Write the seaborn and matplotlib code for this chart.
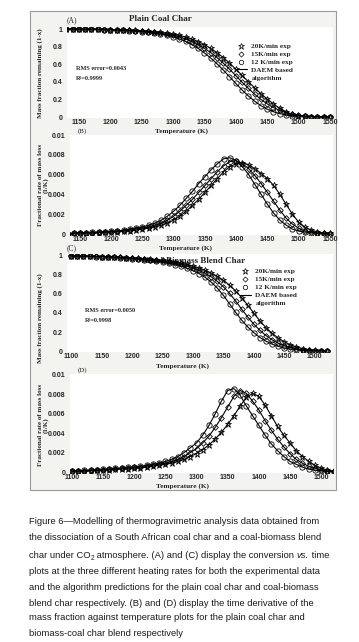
import matplotlib
matplotlib.use("Agg")
import matplotlib.pyplot as plt
import matplotlib.patches as mpatches
from matplotlib.lines import Line2D
from matplotlib import font_manager
import seaborn as sns

# ---- data ---------------------------------------------------------------
temp_plain = [1130, 1140, 1150, 1160, 1170, 1180, 1190, 1200, 1210, 1220,
              1230, 1240, 1250, 1260, 1270, 1280, 1290, 1300, 1310, 1320,
              1330, 1340, 1350, 1360, 1370, 1380, 1390, 1400, 1410, 1420,
              1430, 1440, 1450, 1460, 1470, 1480, 1490, 1500, 1510, 1520,
              1530, 1540, 1550]
temp_blend = [1100, 1110, 1120, 1130, 1140, 1150, 1160, 1170, 1180, 1190,
              1200, 1210, 1220, 1230, 1240, 1250, 1260, 1270, 1280, 1290,
              1300, 1310, 1320, 1330, 1340, 1350, 1360, 1370, 1380, 1390,
              1400, 1410, 1420, 1430, 1440, 1450, 1460, 1470, 1480, 1490,
              1500, 1510, 1520]

# (A) plain coal char - mass fraction remaining (1-x)
mass_plain_12 = [1.000, 1.000, 0.999, 0.998, 0.997, 0.995, 0.993, 0.991, 0.988, 0.985,
                 0.981, 0.976, 0.970, 0.963, 0.954, 0.943, 0.929, 0.911, 0.888, 0.859,
                 0.823, 0.780, 0.729, 0.671, 0.606, 0.535, 0.459, 0.382, 0.308, 0.240,
                 0.180, 0.130, 0.090, 0.060, 0.039, 0.025, 0.016, 0.011, 0.008, 0.006,
                 0.005, 0.004, 0.004]
mass_plain_15 = [1.000, 1.000, 0.999, 0.998, 0.997, 0.996, 0.994, 0.992, 0.990, 0.987,
                 0.984, 0.980, 0.975, 0.969, 0.962, 0.953, 0.942, 0.928, 0.910, 0.887,
                 0.858, 0.823, 0.781, 0.732, 0.676, 0.613, 0.544, 0.471, 0.397, 0.326,
                 0.260, 0.201, 0.150, 0.108, 0.075, 0.051, 0.030, 0.018, 0.010, 0.005,
                 0.003, 0.002, 0.001]
mass_plain_20 = [1.000, 1.000, 1.000, 0.999, 0.998, 0.997, 0.996, 0.994, 0.992, 0.990,
                 0.987, 0.984, 0.980, 0.975, 0.969, 0.962, 0.953, 0.942, 0.928, 0.910,
                 0.887, 0.858, 0.823, 0.781, 0.732, 0.676, 0.613, 0.545, 0.474, 0.402,
                 0.332, 0.266, 0.205, 0.149, 0.100, 0.060, 0.030, 0.015, 0.008, 0.004,
                 0.002, 0.001, 0.000]

# (B) plain coal char - fractional rate of mass loss (1/K)
rate_plain_12 = [0.0000, 0.0001, 0.0001, 0.0001, 0.0002, 0.0002, 0.0002, 0.0003, 0.0003, 0.0004,
                 0.0005, 0.0006, 0.0007, 0.0009, 0.0011, 0.0014, 0.0018, 0.0023, 0.0029, 0.0036,
                 0.0043, 0.0051, 0.0058, 0.0065, 0.0071, 0.0076, 0.0077, 0.0074, 0.0068, 0.0060,
                 0.0050, 0.0040, 0.0030, 0.0021, 0.0014, 0.0009, 0.0005, 0.0003, 0.0002, 0.0001,
                 0.0001, 0.0000, 0.0000]
rate_plain_15 = [0.0000, 0.0001, 0.0001, 0.0001, 0.0001, 0.0002, 0.0002, 0.0002, 0.0003, 0.0003,
                 0.0004, 0.0005, 0.0006, 0.0007, 0.0009, 0.0011, 0.0014, 0.0018, 0.0023, 0.0029,
                 0.0035, 0.0042, 0.0049, 0.0056, 0.0063, 0.0069, 0.0073, 0.0074, 0.0071, 0.0066,
                 0.0059, 0.0051, 0.0042, 0.0033, 0.0024, 0.0016, 0.0010, 0.0006, 0.0003, 0.0002,
                 0.0001, 0.0001, 0.0000]
rate_plain_20 = [0.0000, 0.0000, 0.0001, 0.0001, 0.0001, 0.0001, 0.0002, 0.0002, 0.0002, 0.0003,
                 0.0003, 0.0004, 0.0005, 0.0006, 0.0007, 0.0009, 0.0011, 0.0014, 0.0018, 0.0023,
                 0.0029, 0.0035, 0.0042, 0.0049, 0.0056, 0.0063, 0.0068, 0.0071, 0.0072, 0.0070,
                 0.0066, 0.0061, 0.0056, 0.0049, 0.0040, 0.0030, 0.0020, 0.0012, 0.0007, 0.0004,
                 0.0002, 0.0001, 0.0001]

# (C) coal-biomass blend char - mass fraction remaining (1-x)
mass_blend_12 = [1.000, 0.999, 0.998, 0.996, 0.994, 0.992, 0.988, 0.985, 0.981, 0.977,
                 0.972, 0.966, 0.960, 0.953, 0.945, 0.935, 0.924, 0.910, 0.893, 0.872,
                 0.846, 0.815, 0.775, 0.725, 0.662, 0.585, 0.497, 0.407, 0.325, 0.253,
                 0.193, 0.142, 0.103, 0.072, 0.049, 0.032, 0.021, 0.013, 0.007, 0.004,
                 0.002, 0.001, 0.000]
mass_blend_15 = [1.000, 0.999, 0.998, 0.997, 0.995, 0.993, 0.991, 0.988, 0.985, 0.980,
                 0.976, 0.971, 0.966, 0.960, 0.953, 0.945, 0.935, 0.924, 0.911, 0.894,
                 0.874, 0.849, 0.818, 0.780, 0.733, 0.676, 0.607, 0.527, 0.440, 0.357,
                 0.282, 0.217, 0.162, 0.118, 0.083, 0.056, 0.037, 0.024, 0.014, 0.008,
                 0.004, 0.002, 0.001]
mass_blend_20 = [1.000, 0.999, 0.998, 0.997, 0.996, 0.994, 0.992, 0.990, 0.987, 0.983,
                 0.980, 0.976, 0.972, 0.967, 0.961, 0.953, 0.945, 0.936, 0.924, 0.911,
                 0.894, 0.874, 0.850, 0.821, 0.786, 0.744, 0.693, 0.632, 0.562, 0.482,
                 0.398, 0.317, 0.245, 0.185, 0.136, 0.097, 0.065, 0.043, 0.026, 0.014,
                 0.007, 0.003, 0.001]

# (D) coal-biomass blend char - fractional rate of mass loss (1/K)
rate_blend_12 = [0.0001, 0.0001, 0.0002, 0.0002, 0.0002, 0.0003, 0.0003, 0.0004, 0.0004, 0.0005,
                 0.0005, 0.0006, 0.0007, 0.0008, 0.0009, 0.0011, 0.0013, 0.0016, 0.0020, 0.0025,
                 0.0030, 0.0038, 0.0048, 0.0060, 0.0073, 0.0084, 0.0086, 0.0079, 0.0068, 0.0058,
                 0.0048, 0.0038, 0.0029, 0.0022, 0.0016, 0.0011, 0.0008, 0.0005, 0.0003, 0.0002,
                 0.0001, 0.0001, 0.0000]
rate_blend_15 = [0.0001, 0.0001, 0.0001, 0.0002, 0.0002, 0.0002, 0.0003, 0.0003, 0.0004, 0.0004,
                 0.0005, 0.0005, 0.0006, 0.0007, 0.0008, 0.0009, 0.0011, 0.0013, 0.0016, 0.0020,
                 0.0024, 0.0030, 0.0037, 0.0046, 0.0056, 0.0067, 0.0078, 0.0084, 0.0081, 0.0073,
                 0.0064, 0.0053, 0.0043, 0.0034, 0.0026, 0.0019, 0.0013, 0.0009, 0.0006, 0.0004,
                 0.0002, 0.0001, 0.0001]
rate_blend_20 = [0.0001, 0.0001, 0.0001, 0.0001, 0.0002, 0.0002, 0.0002, 0.0003, 0.0003, 0.0003,
                 0.0004, 0.0004, 0.0005, 0.0006, 0.0007, 0.0008, 0.0009, 0.0011, 0.0013, 0.0016,
                 0.0019, 0.0023, 0.0028, 0.0034, 0.0041, 0.0049, 0.0058, 0.0068, 0.0077, 0.0081,
                 0.0078, 0.0069, 0.0058, 0.0047, 0.0038, 0.0030, 0.0022, 0.0016, 0.0011, 0.0007,
                 0.0004, 0.0002, 0.0001]

legend_labels = ["20K/min exp", "15K/min exp", "12 K/min exp", "DAEM based", "algorithm"]
caption_lines = [
    "Figure 6\u2014Modelling of thermogravimetric analysis data obtained from",
    "the dissociation of a South African coal char and a coal-biomass blend",
    None,  # line with CO2 and italic vs., built below
    "plots at the three different heating rates for both the experimental data",
    "and the algorithm predictions for the plain coal char and coal-biomass",
    "blend char respectively. (B) and (D) display the time derivative of the",
    "mass fraction against temperature plots for the plain coal char and",
    "biomass-coal char blend respectively",
]

# ---- fonts ----------------------------------------------------------------
sns.set_style("white")
names = {f.name for f in font_manager.fontManager.ttflist}
CAP = "Liberation Sans Narrow" if "Liberation Sans Narrow" in names else "Liberation Sans"
SERIF = "Liberation Serif"
plt.rcParams["font.family"] = ["Liberation Sans", "DejaVu Sans"]

W, H = 359, 642
fig = plt.figure(figsize=(W / 100, H / 100), dpi=100)
fig.patch.set_facecolor("white")


def box(x0, y0, x1, y1):
    return [x0 / W, 1 - y1 / H, (x1 - x0) / W, (y1 - y0) / H]


def ftext(x, y, s, **kw):
    return fig.text(x / W, 1 - y / H, s, **kw)


# grey screenshot frame
fig.patches.append(mpatches.Rectangle((30 / W, 1 - 490 / H), 306 / W, 479 / H,
                                      transform=fig.transFigure, facecolor="#f3f3ef",
                                      edgecolor="#9a9a9a", lw=0.8, zorder=-10))

markers = [("o", 3.8), ("D", 2.9), ("*", 5.0)]


def panel(rect, temps, series, xlim, ylim, xticks, yticks, yticklabels):
    ax = fig.add_axes(rect)
    ax.set_facecolor("white")
    for vals, (mk, ms) in zip(series, markers):
        sns.lineplot(x=temps, y=vals, ax=ax, color="black", lw=0.8, marker=mk,
                     ms=ms, mfc="none", mec="black", mew=0.6, zorder=3)
    ax.set_xlim(*xlim)
    ax.set_ylim(*ylim)
    ax.set_xticks(xticks)
    ax.set_yticks(yticks)
    ax.set_yticklabels(yticklabels)
    ax.set_xlabel("")
    ax.set_ylabel("")
    for s in ax.spines.values():
        s.set_visible(False)
    ax.tick_params(axis="y", length=2, width=0.5, color="#888888", pad=1.5, labelsize=5)
    ax.tick_params(axis="x", length=0, pad=0.5, labelsize=5)
    for lbl in ax.get_xticklabels() + ax.get_yticklabels():
        lbl.set_fontweight("bold")
    return ax


def add_legend(ax, anchor):
    handles = [Line2D([], [], ls="none", marker="*", ms=4.5, mfc="none", mec="k", mew=0.5),
               Line2D([], [], ls="none", marker="D", ms=2.6, mfc="none", mec="k", mew=0.5),
               Line2D([], [], ls="none", marker="o", ms=3.2, mfc="none", mec="k", mew=0.5),
               Line2D([], [], color="k", lw=0.8),
               Line2D([], [], ls="none")]
    ax.legend(handles, legend_labels, loc="upper left", bbox_to_anchor=anchor,
              frameon=False, borderpad=0, handlelength=1.6, handletextpad=0.6,
              labelspacing=0.25, prop=dict(family=SERIF, weight="bold", size=5.2))


mass_ticks = [0, 0.2, 0.4, 0.6, 0.8, 1.0]
mass_labels = ["0", "0.2", "0.4", "0.6", "0.8", "1"]
rate_ticks = [0, 0.002, 0.004, 0.006, 0.008, 0.01]
rate_labels = ["0", "0.002", "0.004", "0.006", "0.008", "0.01"]
small = dict(family=SERIF, weight="bold", size=4.5)
label = dict(family=SERIF, weight="bold", size=5.2, ha="center", va="center")

# (A)
axA = panel(box(67, 27, 333, 118), temp_plain, [mass_plain_12, mass_plain_15, mass_plain_20],
            (1131, 1555), (-0.011, 1.023), [1150, 1200, 1250, 1300, 1350, 1400, 1450, 1500, 1550],
            mass_ticks, mass_labels)
add_legend(axA, (0.62, 0.86))
ftext(72, 20, "(A)", family=SERIF, size=5.5, ha="center", va="center")
ftext(160, 19, "Plain Coal Char", family=SERIF, weight="bold", size=6.5, ha="center", va="center")
ftext(40, 73, "Mass fraction remaining (1-x)", family=SERIF, weight="bold", size=5,
      rotation=90, ha="center", va="center")
ftext(76, 68, "RMS error=0.0043", va="center", **small)
ftext(76, 79, "R\u00b2=0.9999", va="center", **small)
ftext(181, 131, "Temperature (K)", **label)

# (B)
axB = panel(box(70, 135, 333, 235), temp_plain, [rate_plain_12, rate_plain_15, rate_plain_20],
            (1134, 1555), (-0.0001, 0.0100), [1150, 1200, 1250, 1300, 1350, 1400, 1450, 1500, 1550],
            rate_ticks, rate_labels)
ftext(82, 131, "(B)", family=SERIF, size=5, ha="center", va="center")
ftext(43, 185, "Fractional rate of mass loss\n(1/K)", family=SERIF, weight="bold", size=5,
      rotation=90, ha="center", va="center", linespacing=1.0)
ftext(186, 248, "Temperature (K)", **label)

# (C)
axC = panel(box(67, 254, 333, 352), temp_blend, [mass_blend_12, mass_blend_15, mass_blend_20],
            (1093, 1530), (-0.0105, 1.021), [1100, 1150, 1200, 1250, 1300, 1350, 1400, 1450, 1500],
            mass_ticks, mass_labels)
add_legend(axC, (0.635, 0.89))
axC.text(0.48, 0.93, "Coal-Biomass Blend Char", transform=axC.transAxes, family=SERIF,
         weight="bold", size=6.5, ha="center", va="center", zorder=1)
ftext(72, 248, "(C)", family=SERIF, size=5.5, ha="center", va="center")
ftext(40, 318, "Mass fraction remaining (1-x)", family=SERIF, weight="bold", size=5,
      rotation=90, ha="center", va="center")
ftext(85, 311, "RMS error=0.0050", va="center", **small)
ftext(85, 321, "R\u00b2=0.9998", va="center", **small)
ftext(182, 366, "Temperature (K)", **label)

# (D)
axD = panel(box(70, 374, 333, 473), temp_blend, [rate_blend_12, rate_blend_15, rate_blend_20],
            (1097, 1519), (-0.0001, 0.0101), [1100, 1150, 1200, 1250, 1300, 1350, 1400, 1450, 1500],
            rate_ticks, rate_labels)
ftext(82, 370, "(D)", family=SERIF, size=5, ha="center", va="center")
ftext(43, 425, "Fractional rate of mass loss\n(1/K)", family=SERIF, weight="bold", size=5,
      rotation=90, ha="center", va="center", linespacing=1.0)
ftext(183, 486, "Temperature (K)", **label)

# ---- caption ----------------------------------------------------------------
renderer = fig.canvas.get_renderer()
probe = ftext(0, 0, caption_lines[0], family=[CAP, "DejaVu Sans"], size=8)
cap_size = 8 * 293 / probe.get_window_extent(renderer).width
probe.remove()

cap_kw = dict(family=[CAP, "DejaVu Sans"], size=cap_size, color="#1a1a1a", va="center")
cap_y = [522, 538, 555, 571, 587, 603, 618, 634]
for line, y in zip(caption_lines, cap_y):
    if line is not None:
        ftext(29, y, line, **cap_kw)

x = 29
for piece, style in [("char under CO", "normal"), ("2", "sub"),
                     (" atmosphere. (A) and (C) display the conversion ", "normal"),
                     ("vs.", "italic"), (" time", "normal")]:
    kw = dict(cap_kw)
    y = cap_y[2]
    if style == "sub":
        kw["size"] = cap_size * 0.7
        y += 3
    if style == "italic":
        kw["style"] = "italic"
    t = ftext(x, y, piece, **kw)
    x += t.get_window_extent(renderer).width

fig.savefig("out.png", dpi=100)
